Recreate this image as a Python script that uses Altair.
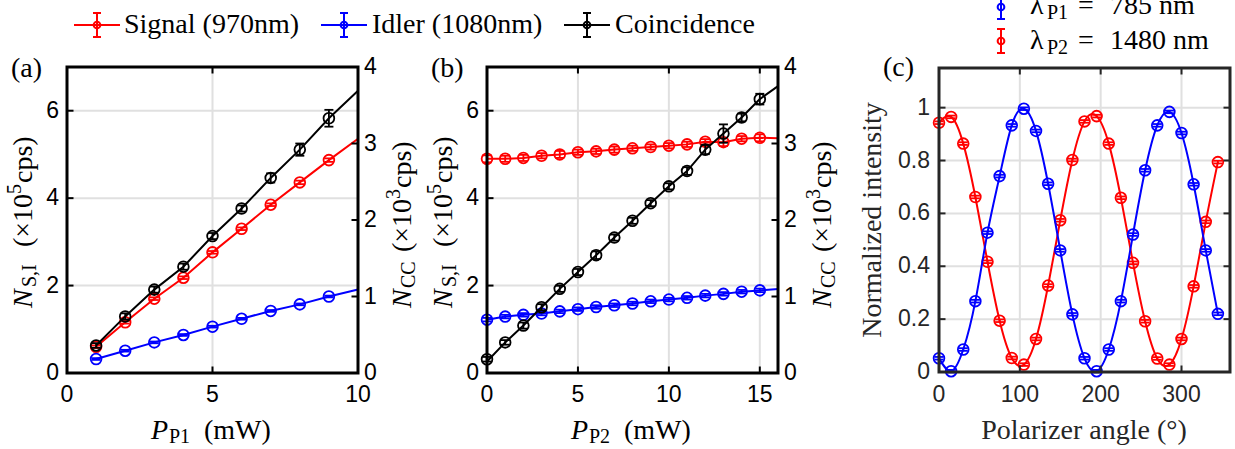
import altair as alt
import pandas as pd

# ---------------- data ----------------
# (a) pump P1 power sweep  (N_S, N_I in 1e5 cps ; N_CC in 1e3 cps)
A_P = [1, 2, 3, 4, 5, 6, 7, 8, 9]
A_SIG = [0.60, 1.16, 1.70, 2.18, 2.76, 3.30, 3.85, 4.36, 4.87]
A_SIG_ERR = [0.03, 0.03, 0.03, 0.03, 0.03, 0.03, 0.03, 0.04, 0.04]
A_IDL = [0.32, 0.51, 0.70, 0.87, 1.06, 1.24, 1.42, 1.57, 1.75]
A_IDL_ERR = [0.02, 0.02, 0.02, 0.02, 0.02, 0.02, 0.02, 0.02, 0.02]
A_CC = [0.36, 0.74, 1.09, 1.39, 1.79, 2.15, 2.55, 2.92, 3.33]
A_CC_ERR = [0.03, 0.04, 0.04, 0.04, 0.04, 0.04, 0.06, 0.08, 0.11]
A_FIT_P = [1, 2, 3, 4, 5, 6, 7, 8, 9, 10]
A_SIG_FIT = [0.60, 1.16, 1.70, 2.18, 2.76, 3.30, 3.85, 4.36, 4.87, 5.36]
A_IDL_FIT = [0.32, 0.51, 0.70, 0.87, 1.06, 1.24, 1.42, 1.57, 1.75, 1.91]
A_CC_FIT = [0.36, 0.74, 1.09, 1.39, 1.79, 2.15, 2.55, 2.92, 3.33, 3.69]

# (b) pump P2 power sweep
B_P = [0, 1, 2, 3, 4, 5, 6, 7, 8, 9, 10, 11, 12, 13, 14, 15]
B_SIG = [4.90, 4.90, 4.92, 4.97, 5.00, 5.05, 5.07, 5.11, 5.14, 5.17, 5.20, 5.23, 5.29, 5.28, 5.36, 5.38]
B_SIG_ERR = [0.08, 0.07, 0.07, 0.06, 0.08, 0.06, 0.06, 0.07, 0.06, 0.06, 0.06, 0.06, 0.06, 0.09, 0.06, 0.08]
B_IDL = [1.22, 1.29, 1.33, 1.36, 1.41, 1.46, 1.51, 1.55, 1.59, 1.64, 1.68, 1.72, 1.77, 1.81, 1.86, 1.89]
B_IDL_ERR = [0.04, 0.04, 0.04, 0.04, 0.04, 0.04, 0.04, 0.04, 0.04, 0.04, 0.04, 0.04, 0.04, 0.04, 0.04, 0.04]
B_CC = [0.18, 0.40, 0.62, 0.86, 1.10, 1.32, 1.54, 1.77, 1.99, 2.22, 2.44, 2.64, 2.92, 3.13, 3.34, 3.58]
B_CC_ERR = [0.03, 0.03, 0.04, 0.04, 0.04, 0.04, 0.05, 0.04, 0.04, 0.04, 0.04, 0.05, 0.06, 0.12, 0.05, 0.07]
B_FIT_P = [0, 1, 2, 3, 4, 5, 6, 7, 8, 9, 10, 11, 12, 13, 14, 15, 16]
B_SIG_FIT = [4.90, 4.90, 4.92, 4.97, 5.00, 5.05, 5.07, 5.11, 5.14, 5.17, 5.20, 5.23, 5.29, 5.28, 5.36, 5.38, 5.37]
B_IDL_FIT = [1.22, 1.29, 1.33, 1.36, 1.41, 1.46, 1.51, 1.55, 1.59, 1.64, 1.68, 1.72, 1.77, 1.81, 1.86, 1.89, 1.92]
B_CC_FIT = [0.15, 0.40, 0.62, 0.86, 1.10, 1.32, 1.54, 1.77, 1.99, 2.22, 2.44, 2.64, 2.92, 3.13, 3.34, 3.58, 3.75]

# (c) polarizer angle scan (normalized intensity)
C_ANG = [0, 15, 30, 45, 60, 75, 90, 105, 120, 135, 150, 165,
         180, 195, 210, 225, 240, 255, 270, 285, 300, 315, 330, 345]
C_P1 = [0.052, 0.003, 0.085, 0.268, 0.527, 0.741, 0.933, 0.996, 0.912, 0.712, 0.460, 0.218,
        0.052, 0.003, 0.085, 0.268, 0.520, 0.763, 0.933, 0.984, 0.904, 0.710, 0.460, 0.220]
C_P2 = [0.943, 0.965, 0.864, 0.662, 0.417, 0.194, 0.053, 0.028, 0.125, 0.327, 0.574, 0.802,
        0.948, 0.968, 0.864, 0.659, 0.413, 0.192, 0.051, 0.028, 0.125, 0.324, 0.568, 0.794]
C_ERR = [0.005, 0.005, 0.005, 0.005, 0.005, 0.005, 0.005, 0.005, 0.005, 0.005, 0.005, 0.005,
         0.005, 0.005, 0.005, 0.005, 0.005, 0.005, 0.005, 0.005, 0.005, 0.005, 0.005, 0.005]

# axis ticks / labels
A_XTICKS = [0, 5, 10]
B_XTICKS = [0, 5, 10, 15]
LEFT_YTICKS = [0, 2, 4, 6]
RIGHT_YTICKS = [0, 1, 2, 3, 4]
C_XTICKS = [0, 100, 200, 300]
C_YTICKS = [0, 0.2, 0.4, 0.6, 0.8, 1]
C_YLABELS = ["0", "0.2", "0.4", "0.6", "0.8", "1"]

# ---------------- styling / layout ----------------
RED, BLUE, BLACK, DARK = "#ff0000", "#0000ff", "#000000", "#262626"
GRID = "#e0e0e0"
SERIF = "Liberation Serif"
SANS = "Liberation Sans"
TFS = 23      # tick label font size
FS = 28       # title font size
SFS = 20      # sub/superscript font size
XLAB_Y = 395

A_XDOM, B_XDOM, C_XDOM = [0, 10], [0, 16], [0, 360]
LDOM, RDOM, C_YDOM = [0, 7], [0, 4], [0, 1.15]
A_XR, B_XR, C_XR = [67, 358], [487, 778], [939, 1230]
AB_YR, C_YR = [373, 67], [372, 68]


def S(dom, rng):
    return alt.Scale(domain=dom, range=rng, nice=False, zero=False)


def X(f, sc):
    return alt.X(f"{f}:Q", scale=sc, axis=None)


def Y(f, sc):
    return alt.Y(f"{f}:Q", scale=sc, axis=None)


def series(xs, ys, xv, yv, ev, fx, fy, color, interp="linear"):
    df = pd.DataFrame({"x": xv, "y": yv,
                       "lo": [v - e for v, e in zip(yv, ev)],
                       "hi": [v + e for v, e in zip(yv, ev)]})
    line = alt.Chart(pd.DataFrame({"x": fx, "y": fy})).mark_line(
        color=color, strokeWidth=2, interpolate=interp).encode(x=X("x", xs), y=Y("y", ys))
    bar = alt.Chart(df).mark_rule(color=color, strokeWidth=1.8).encode(
        x=X("x", xs), y=Y("lo", ys), y2="hi:Q")
    caps = [alt.Chart(df).mark_tick(orient="horizontal", color=color, size=9,
                                    thickness=1.8, opacity=1).encode(x=X("x", xs), y=Y(f, ys))
            for f in ("lo", "hi")]
    pts = alt.Chart(df).mark_point(shape="circle", filled=False, size=115, strokeWidth=1.8,
                                   color=color, opacity=1).encode(x=X("x", xs), y=Y("y", ys))
    return [line, bar] + caps + [pts]


def grid_v(xs, ys, vals, ydom):
    df = pd.DataFrame({"v": vals, "lo": [ydom[0]] * len(vals), "hi": [ydom[1]] * len(vals)})
    return alt.Chart(df).mark_rule(color=GRID, strokeWidth=2).encode(
        x=X("v", xs), y=Y("lo", ys), y2="hi:Q")


def grid_h(xs, ys, vals, xdom):
    df = pd.DataFrame({"v": vals, "lo": [xdom[0]] * len(vals), "hi": [xdom[1]] * len(vals)})
    return alt.Chart(df).mark_rule(color=GRID, strokeWidth=2).encode(
        y=Y("v", ys), x=X("lo", xs), x2="hi:Q")


def frame(xs, ys, xdom, ydom, color):
    df = pd.DataFrame({"x0": [xdom[0]], "x1": [xdom[1]], "y0": [ydom[0]], "y1": [ydom[1]]})
    return alt.Chart(df).mark_rect(fill="transparent", stroke=color, strokeWidth=3).encode(
        x=X("x0", xs), x2="x1:Q", y=Y("y0", ys), y2="y1:Q")


def ticks_h(xs, ys, vals, edge, off, color):
    df = pd.DataFrame({"v": vals, "e": [edge] * len(vals)})
    return alt.Chart(df).mark_tick(orient="horizontal", size=7, thickness=2, xOffset=off,
                                   color=color, opacity=1).encode(x=X("e", xs), y=Y("v", ys))


def ticks_v(xs, ys, vals, edge, off, color):
    df = pd.DataFrame({"v": vals, "e": [edge] * len(vals)})
    return alt.Chart(df).mark_tick(orient="vertical", size=7, thickness=2, yOffset=off,
                                   color=color, opacity=1).encode(x=X("v", xs), y=Y("e", ys))


def xlabels(xs, vals, labels, ypix, color):
    df = pd.DataFrame({"v": vals, "t": labels})
    return alt.Chart(df).mark_text(font=SANS, fontSize=TFS, align="center", baseline="middle",
                                   color=color).encode(x=X("v", xs), y=alt.value(ypix), text="t:N")


def ylabels(ys, vals, labels, xpix, align, color):
    df = pd.DataFrame({"v": vals, "t": labels})
    return alt.Chart(df).mark_text(font=SANS, fontSize=TFS, align=align, baseline="middle",
                                   color=color).encode(y=Y("v", ys), x=alt.value(xpix), text="t:N")


def txt(s, x, y, size=FS, style="normal", angle=0, align="left", baseline="alphabetic",
        color=BLACK, font=SERIF):
    return alt.Chart(pd.DataFrame({"t": [s]})).mark_text(
        font=font, fontSize=size, fontStyle=style, angle=angle, align=align,
        baseline=baseline, color=color).encode(text="t:N", x=alt.value(x), y=alt.value(y))


ONE = pd.DataFrame({"k": [0]})


def legend_sym(x, y, color, half_len=0, bar=12, cap=8):
    out = []
    if half_len:
        out.append(alt.Chart(ONE).mark_rule(color=color, strokeWidth=2).encode(
            x=alt.value(x - half_len), x2=alt.value(x + half_len), y=alt.value(y)))
    out.append(alt.Chart(ONE).mark_rule(color=color, strokeWidth=2).encode(
        x=alt.value(x), y=alt.value(y - bar), y2=alt.value(y + bar)))
    for yy in (y - bar, y + bar):
        out.append(alt.Chart(ONE).mark_rule(color=color, strokeWidth=2).encode(
            x=alt.value(x - cap / 2), x2=alt.value(x + cap / 2), y=alt.value(yy)))
    out.append(alt.Chart(ONE).mark_point(shape="circle", filled=False, size=45, strokeWidth=2,
                                         color=color, opacity=1).encode(
        x=alt.value(x), y=alt.value(y)))
    return out


layers = []


def power_panel(xdom, xr, xticks, dx, sub_p, data, fits, label):
    xs = S(xdom, xr)
    yl = S(LDOM, AB_YR)
    yr = S(RDOM, AB_YR)
    px, sig, sige, idl, idle, cc, cce = data
    fx, fsig, fidl, fcc = fits
    inner = [t for t in xticks if xdom[0] < t < xdom[1]]
    L = []
    L.append(grid_v(xs, yl, inner, LDOM))
    L.append(grid_h(xs, yl, [t for t in LEFT_YTICKS if LDOM[0] < t < LDOM[1]], xdom))
    L += series(xs, yl, px, sig, sige, fx, fsig, RED)
    L += series(xs, yl, px, idl, idle, fx, fidl, BLUE)
    L += series(xs, yr, px, cc, cce, fx, fcc, BLACK)
    L.append(frame(xs, yl, xdom, LDOM, BLACK))
    L.append(ticks_h(xs, yl, LEFT_YTICKS[1:], xdom[0], 3, BLACK))
    L.append(ticks_h(xs, yr, RIGHT_YTICKS[1:-1], xdom[1], -3, BLACK))
    L.append(ticks_v(xs, yl, inner, LDOM[0], -3, BLACK))
    L.append(ticks_v(xs, yl, inner, LDOM[1], 3, BLACK))
    L.append(xlabels(xs, xticks, [str(t) for t in xticks], XLAB_Y, BLACK))
    L.append(ylabels(yl, LEFT_YTICKS, [str(t) for t in LEFT_YTICKS], dx + 59, "right", BLACK))
    L.append(ylabels(yr, RIGHT_YTICKS, [str(t) for t in RIGHT_YTICKS], dx + 364, "left", BLACK))
    # x title  P_Pn (mW)
    L.append(txt("P", dx + 151, 439, style="italic"))
    L.append(txt(sub_p, dx + 169, 443, size=SFS))
    L.append(txt("(mW)", dx + 204, 439))
    # left y title  N_S,I (x10^5 cps)
    L.append(txt("N", dx + 32, 308, style="italic", angle=270))
    L.append(txt("S,I", dx + 36, 287, size=SFS, angle=270))
    L.append(txt("(×10", dx + 32, 247, angle=270))
    L.append(txt("5", dx + 21, 194, size=SFS, angle=270))
    L.append(txt("cps)", dx + 32, 183, angle=270))
    # right y title  N_CC (x10^3 cps)
    L.append(txt("N", dx + 411, 308, style="italic", angle=270))
    L.append(txt("CC", dx + 415, 288, size=SFS, angle=270))
    L.append(txt("(×10", dx + 411, 252, angle=270))
    L.append(txt("3", dx + 400, 199, size=SFS, angle=270))
    L.append(txt("cps)", dx + 411, 188, angle=270))
    L.append(txt(label, dx + 11, 77))
    return L


layers += power_panel(A_XDOM, A_XR, A_XTICKS, 0, "P1",
                      (A_P, A_SIG, A_SIG_ERR, A_IDL, A_IDL_ERR, A_CC, A_CC_ERR),
                      (A_FIT_P, A_SIG_FIT, A_IDL_FIT, A_CC_FIT), "(a)")
layers += power_panel(B_XDOM, B_XR, B_XTICKS, 420, "P2",
                      (B_P, B_SIG, B_SIG_ERR, B_IDL, B_IDL_ERR, B_CC, B_CC_ERR),
                      (B_FIT_P, B_SIG_FIT, B_IDL_FIT, B_CC_FIT), "(b)")

# ---- panel (c) ----
cx = S(C_XDOM, C_XR)
cy = S(C_YDOM, C_YR)
layers.append(grid_v(cx, cy, C_XTICKS[1:], C_YDOM))
layers.append(grid_h(cx, cy, C_YTICKS[1:], C_XDOM))
layers += series(cx, cy, C_ANG, C_P2, C_ERR, C_ANG, C_P2, RED, interp="natural")
layers += series(cx, cy, C_ANG, C_P1, C_ERR, C_ANG, C_P1, BLUE, interp="natural")
layers.append(frame(cx, cy, C_XDOM, C_YDOM, DARK))
layers.append(ticks_h(cx, cy, C_YTICKS[1:], C_XDOM[0], 3, DARK))
layers.append(ticks_h(cx, cy, C_YTICKS[1:], C_XDOM[1], -3, DARK))
layers.append(ticks_v(cx, cy, C_XTICKS[1:], C_YDOM[0], -3, DARK))
layers.append(ticks_v(cx, cy, C_XTICKS[1:], C_YDOM[1], 3, DARK))
layers.append(xlabels(cx, C_XTICKS, [str(t) for t in C_XTICKS], XLAB_Y, DARK))
layers.append(ylabels(cy, C_YTICKS, C_YLABELS, 930, "right", DARK))
layers.append(txt("Polarizer angle (°)", 1084, 439, align="center", color=DARK))
layers.append(txt("Normalized intensity", 881, 220, angle=270, align="center", color=DARK))
layers.append(txt("(c)", 883, 76))

# ---- top legend (a,b) ----
layers += legend_sym(97, 25, RED, half_len=23)
layers.append(txt("Signal (970nm)", 124, 33))
layers += legend_sym(344, 25, BLUE, half_len=23)
layers.append(txt("Idler (1080nm)", 372, 33))
layers += legend_sym(587, 25, BLACK, half_len=23)
layers.append(txt("Coincidence", 615, 33))

# ---- legend (c) ----
layers += legend_sym(1001, 7, BLUE)
layers.append(txt("λ", 1030, 14))
layers.append(txt("P1", 1047, 19, size=SFS))
layers.append(txt("=", 1078, 14))
layers.append(txt("785 nm", 1110, 14))
layers += legend_sym(1001, 41, RED)
layers.append(txt("λ", 1030, 49))
layers.append(txt("P2", 1047, 54, size=SFS))
layers.append(txt("=", 1078, 49))
layers.append(txt("1480 nm", 1110, 49))

chart = alt.layer(*layers).resolve_scale(x="independent", y="independent").properties(
    width=1235, height=449, padding=0, background="white",
    autosize=alt.AutoSizeParams(type="none", contains="padding"),
).configure_view(stroke=None)

chart.save("out.html", embed_options={"renderer": "svg", "actions": False})
